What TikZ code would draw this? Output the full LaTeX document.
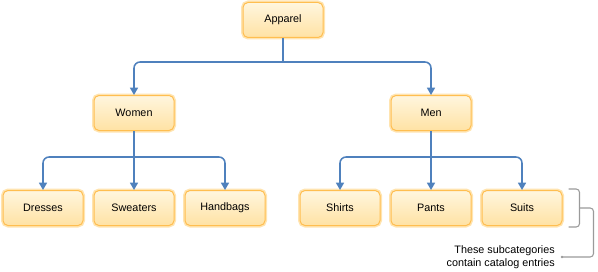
\documentclass[tikz,border=0pt]{standalone}
\usepackage{fontspec}
\setmainfont{Liberation Sans}
\usetikzlibrary{arrows.meta,calc}
\definecolor{boxborder}{HTML}{FFBE50}
\definecolor{boxhalo}{HTML}{FFE4B0}
\definecolor{boxtop}{HTML}{FFF6DE}
\definecolor{boxbot}{HTML}{FFE2A4}
\definecolor{conncol}{HTML}{4F81BD}
\definecolor{brackcol}{HTML}{9A9A9A}
\tikzset{
  catbox/.style={rectangle, rounded corners=3.75pt, minimum width=60pt, minimum height=26.25pt,
    draw=boxborder, line width=0.75pt, top color=boxtop, bottom color=boxbot,
    preaction={draw=boxhalo, line width=3pt},
    font=\fontsize{8.1}{9.7}\selectfont, text=black, inner sep=0pt},
  conn/.style={draw=conncol, line width=1.15pt, rounded corners=4.5pt,
    arrows={-Triangle[width=6pt,length=5.5pt]}},
  bothconn/.style={conn, arrows={Triangle[width=6pt,length=5.5pt]-Triangle[width=6pt,length=5.5pt]}},
  plainconn/.style={draw=conncol, line width=1.15pt},
  bracket/.style={draw=brackcol, line width=0.8pt, rounded corners=2.5pt},
  note/.style={font=\fontsize{8.1}{9.75}\selectfont, align=right, inner sep=0pt}
}
\begin{document}
\begin{tikzpicture}[x=0.75pt, y=-0.75pt]
\useasboundingbox (0,0) rectangle (598,271);
\node[catbox] (apparel) at (283,20) {Apparel};
\node[catbox] (women) at (134,113) {Women};
\node[catbox] (men) at (431,113) {Men};
\node[catbox] (dresses) at (43,208) {Dresses};
\node[catbox] (sweaters) at (134,208) {Sweaters};
\node[catbox] (handbags) at (225,208) {Handbags};
\node[catbox] (shirts) at (340,208) {Shirts};
\node[catbox] (pants) at (431,208) {Pants};
\node[catbox] (suits) at (522,208) {Suits};

\coordinate (bus1) at (283,62);
\coordinate (bus2) at (134,157);
\coordinate (bus3) at (431,157);

% level 1
\draw[plainconn] (apparel.south) -- (bus1);
\draw[bothconn] (women.north) |- (bus1) -| (men.north);
% level 2 women
\draw[plainconn] (women.south) -- (bus2);
\draw[bothconn] (dresses.north) |- (bus2) -| (handbags.north);
\draw[conn] (bus2) -- (sweaters.north);
% level 2 men
\draw[plainconn] (men.south) -- (bus3);
\draw[bothconn] (shirts.north) |- (bus3) -| (suits.north);
\draw[conn] (bus3) -- (pants.north);

% bracket and note
\coordinate (bt) at ($(suits.north east)+(6,-1)$);
\coordinate (bb) at ($(suits.south east)+(6,1)$);
\coordinate (bx) at ($(suits.east)+(17,0)$);
\draw[bracket] (bt) -| (bb -| bx) -- (bb);
\coordinate (ncorner) at ($(bx)+(14,0)$);
\node[note, anchor=east] (note) at (555,257) {These subcategories\\contain catalog entries};
\coordinate (dot) at (562,257);
\draw[bracket] (bx) -- (ncorner) |- (dot);
\fill[brackcol] (dot) circle (1pt);
\end{tikzpicture}
\end{document}
